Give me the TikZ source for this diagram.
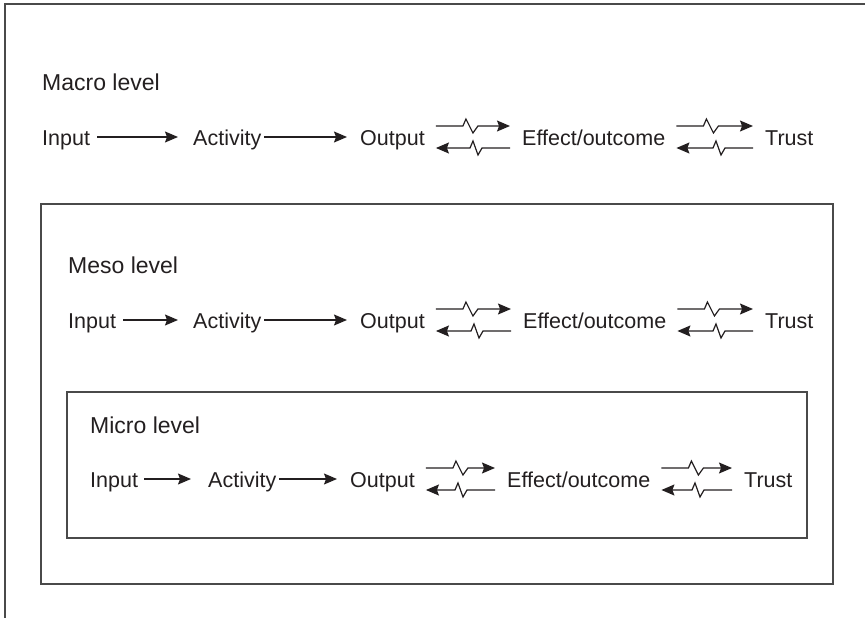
\documentclass[tikz,border=0pt]{standalone}
\usepackage{fontspec}
\setmainfont{Liberation Sans}
\usetikzlibrary{arrows.meta,calc}

\definecolor{ink}{HTML}{231F20}
\definecolor{frame}{HTML}{4A4A4A}

% two opposed zigzag arrows between node #1 (left) and node #2 (right)
\newcommand\twoway[2]{%
  \path ($(#1.base east)+(11,-8)$) coordinate (zA)
        ($(#2.base west)+(-12,-8)$) coordinate (zB);
  \draw[flow] ($(zA)+(0,-11)$) -- ++(27,0) -- ++(3,-7) -- ++(7,14) -- ++(5,-7)
              -- ($(zB)+(0,-11)$);
  \draw[flow] ($(zB)+(0,11)$) -- ++(-28,0) -- ++(-4,7) -- ++(-5,-14) -- ++(-3,7)
              -- ($(zA)+(0,11)$);
}
% straight arrow from node #1 to node #2 with given gaps
\newcommand\oneway[4]{%
  \draw[flow] ($(#1.base east)+(#3,-8)$) -- ($(#2.base west)+(-#4,-8)$);
}

\begin{document}
\begin{tikzpicture}[x=1pt,y=-1pt,
  word/.style={anchor=base west, inner sep=0pt, text=ink,
               font=\fontsize{21.5}{26}\selectfont},
  heading/.style={word, font=\fontsize{23}{28}\selectfont},
  flow/.style={draw=ink, line width=1.2pt, line join=miter,
               -{Stealth[length=13pt,width=11pt,inset=2pt]}},
  levelbox/.style={draw=frame, line width=1.5pt}]
\useasboundingbox (0,0) rectangle (865,618);

% outer frame: top and left edges only
\draw[levelbox] (865,4) coordinate (fTR) -- (5,4) coordinate (fTL) -- (5,618) coordinate (fBL);

% nested boxes
\draw[levelbox] (41,204) rectangle (833,584);
\draw[levelbox] (67,392) rectangle (807,538);

% ---- macro level ----
\node[heading] (hMa) at (42,91) {Macro level};
\node[word] (maIn)  at (42,145)  {Input};
\node[word] (maAct) at (193,145) {Activity};
\node[word] (maOut) at (360,145) {Output};
\node[word] (maEff) at (522,145) {Effect/outcome};
\node[word] (maTr)  at (765,145) {Trust};
\oneway{maIn}{maAct}{7}{15}
\oneway{maAct}{maOut}{3}{13}
\twoway{maOut}{maEff}
\twoway{maEff}{maTr}

% ---- meso level ----
\node[heading] (hMe) at (68,273) {Meso level};
\node[word] (meIn)  at (68,328)  {Input};
\node[word] (meAct) at (193,328) {Activity};
\node[word] (meOut) at (360,328) {Output};
\node[word] (meEff) at (523,328) {Effect/outcome};
\node[word] (meTr)  at (765,328) {Trust};
\oneway{meIn}{meAct}{7}{15}
\oneway{meAct}{meOut}{3}{13}
\twoway{meOut}{meEff}
\twoway{meEff}{meTr}

% ---- micro level ----
\node[heading] (hMi) at (90,433) {Micro level};
\node[word] (miIn)  at (90,487)  {Input};
\node[word] (miAct) at (208,487) {Activity};
\node[word] (miOut) at (350,487) {Output};
\node[word] (miEff) at (507,487) {Effect/outcome};
\node[word] (miTr)  at (744,487) {Trust};
\oneway{miIn}{miAct}{6}{17}
\oneway{miAct}{miOut}{3}{13}
\twoway{miOut}{miEff}
\twoway{miEff}{miTr}
\end{tikzpicture}
\end{document}
